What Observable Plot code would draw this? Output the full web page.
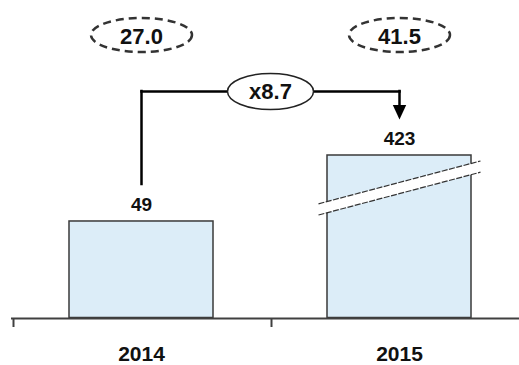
<!DOCTYPE html>
<html><head><meta charset="utf-8">
<script src="https://cdn.jsdelivr.net/npm/d3@7"></script>
<script src="https://cdn.jsdelivr.net/npm/@observablehq/plot@0.6"></script>
<style>body{margin:0;background:#fff} #chart{width:519px;height:365px}</style>
</head><body><div id="chart"></div>
<script>
// ---- data ----
const years = ["2014", "2015"];
const values = [49, 423];
const valueLabels = ["49", "423"];
const topLabels = ["27.0", "41.5"];
const ratioLabel = ["x8.7"];
const breakValue = 66; // where the y axis is broken

const bars = years.map((year, i) => ({year, value: values[i], label: valueLabels[i]}));
const tops = years.map((year, i) => ({year, label: topLabels[i]}));
const maxValue = d3.max(values);

// ---- custom symbols ----
function ellipse(rx, ry) {
  const k = 0.5523;
  return {draw(ctx) {
    ctx.moveTo(rx, 0);
    ctx.bezierCurveTo(rx, ry * k, rx * k, ry, 0, ry);
    ctx.bezierCurveTo(-rx * k, ry, -rx, ry * k, -rx, 0);
    ctx.bezierCurveTo(-rx, -ry * k, -rx * k, -ry, 0, -ry);
    ctx.bezierCurveTo(rx * k, -ry, rx, -ry * k, rx, 0);
    ctx.closePath();
  }};
}
const bw = 81, bs = 21.4, bg = 5.6;
const breakFill = {draw(ctx) {
  ctx.moveTo(-bw, -bg + bs); ctx.lineTo(bw, -bg - bs);
  ctx.lineTo(bw, bg - bs); ctx.lineTo(-bw, bg + bs); ctx.closePath();
}};
const breakLines = {draw(ctx) {
  ctx.moveTo(-bw, -bg + bs); ctx.lineTo(bw, -bg - bs);
  ctx.moveTo(-bw, bg + bs); ctx.lineTo(bw, bg - bs);
}};
const arrowHead = {draw(ctx) {
  ctx.moveTo(-6.7, -14.5); ctx.lineTo(6.7, -14.5); ctx.lineTo(0, 0); ctx.closePath();
}};

const ink = "#111";
const txt = {fontWeight: "bold", fill: ink, lineAnchor: "middle"};
const chart = Plot.plot({
  width: 519, height: 365,
  marginTop: 0, marginBottom: 0, marginLeft: 0, marginRight: 0,
  x: {type: "band", domain: years, range: [12, 528], padding: 0, axis: null},
  y: {type: "linear", domain: [0, breakValue, maxValue], range: [317.5, 187.5, 155], axis: null},
  style: {fontFamily: "'Liberation Sans', Arial, sans-serif", background: "#fff", color: ink},
  marks: [
    Plot.barY(bars, {x: "year", y: "value", fill: "#dcedf8", stroke: "#3a3a3a", strokeWidth: 1.5, insetLeft: 57, insetRight: 57}),
    Plot.dot([{year: "2015", v: breakValue}], {x: "year", y: "v", symbol: breakFill, r: 10, fill: "#fff", stroke: "none"}),
    Plot.dot([{year: "2015", v: breakValue}], {x: "year", y: "v", symbol: breakLines, r: 10, fill: "none", stroke: "#333", strokeWidth: 1.2, strokeDasharray: "6,1.5"}),
    Plot.ruleY([0], {stroke: "#404040", strokeWidth: 2, insetLeft: 11, dy: 0.5}),
    Plot.ruleX(years, {x: d => d, dx: -128, insetTop: 318, insetBottom: 38, stroke: "#404040", strokeWidth: 2}),
    // connector
    Plot.ruleX([years[0]], {x: d => d, insetTop: 91, insetBottom: 365 - 184, stroke: "#000", strokeWidth: 2.5, strokeLinecap: "square"}),
    Plot.link([{a: years[0], b: years[1]}], {x1: "a", x2: "b", y1: () => maxValue, y2: () => maxValue, dy: -64, stroke: "#000", strokeWidth: 2.5, strokeLinecap: "square"}),
    Plot.ruleX([years[1]], {x: d => d, insetTop: 91, insetBottom: 365 - 106, stroke: "#000", strokeWidth: 2.5, strokeLinecap: "square"}),
    Plot.dot([years[1]], {x: d => d, frameAnchor: "top", dy: 119, symbol: arrowHead, r: 7, fill: "#000", stroke: "none"}),
    Plot.dot(ratioLabel, {x: () => years[0], dx: 129, frameAnchor: "top", dy: 91, symbol: ellipse(43, 18), r: 10, fill: "#fff", stroke: "#222", strokeWidth: 1.5}),
    Plot.text(ratioLabel, {x: () => years[0], dx: 129, text: d => d, frameAnchor: "top", dy: 91, fontSize: 22, ...txt}),
    // top dashed ellipses
    Plot.dot(tops, {x: "year", frameAnchor: "top", dy: 34.5, symbol: ellipse(50.5, 17), r: 10, fill: "#fff", stroke: "#333", strokeWidth: 2.5, strokeDasharray: "8,5"}),
    Plot.text(tops, {x: "year", text: "label", frameAnchor: "top", dy: 36.5, fontSize: 22, ...txt}),
    // value labels
    Plot.text(bars, {x: "year", y: "value", text: "label", dy: -17, fontSize: 19, ...txt}),
    // year labels
    Plot.text(years, {x: d => d, text: d => d, frameAnchor: "top", dy: 354, fontSize: 21, ...txt})
  ]
});
document.getElementById("chart").appendChild(chart);
</script>
</body></html>
